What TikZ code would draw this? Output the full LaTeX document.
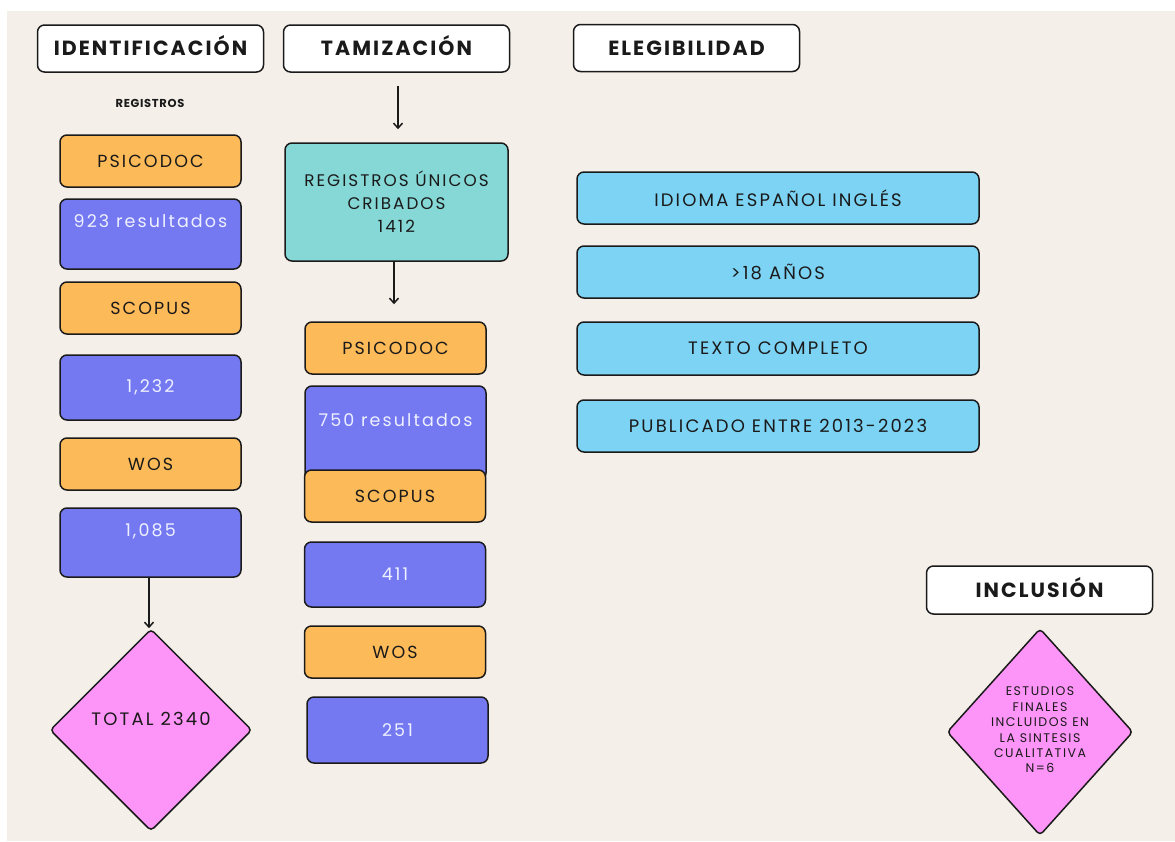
\documentclass[tikz,border=0pt]{standalone}
\usepackage{fontspec}
\setmainfont{Poppins}[LetterSpace=12]
\usetikzlibrary{shapes.geometric,arrows.meta}
\definecolor{beige}{HTML}{F4EFE9}
\definecolor{orng}{HTML}{FDBA58}
\definecolor{blu}{HTML}{7479F1}
\definecolor{tealc}{HTML}{86D8D6}
\definecolor{cyanc}{HTML}{7DD3F4}
\definecolor{pinkc}{HTML}{FD94F7}
\definecolor{txtw}{HTML}{EEF0FF}
\definecolor{ink}{HTML}{1A1A1A}
\tikzset{
  box/.style={draw=ink, line width=1.5pt, rounded corners=7pt, inner sep=0pt,
    font=\fontsize{17.5}{21}\selectfont, text=ink},
  hdr/.style={box, fill=white, minimum width=226pt, minimum height=47pt,
    text height=14.3pt, text depth=0pt,
    font=\fontsize{20.5}{24}\selectfont\bfseries\addfontfeatures{LetterSpace=10}},
  obox/.style={box, fill=orng, minimum width=181pt, minimum height=52pt},
  bbox/.style={box, fill=blu, text=txtw, minimum width=181pt},
  bboxtop/.style={bbox, text height=12pt, text depth=#1},
  cbox/.style={box, fill=cyanc, minimum width=402pt, minimum height=52pt,
    font=\fontsize{18}{21}\selectfont},
  pdia/.style={draw=ink, line width=1.5pt, fill=pinkc, diamond, rounded corners=4pt, inner sep=0pt},
  arr/.style={draw=ink, line width=1.5pt, -{Straight Barb[length=5pt,width=9pt]}},
}
\begin{document}
\begin{tikzpicture}[x=1pt,y=-1pt]
\useasboundingbox (0,0) rectangle (1175,841);
\fill[white] (0,0) rectangle (1175,841);
\fill[beige] (7,11) rectangle (1175,841);

% headers
\node[hdr] (ident) at (150.5,48.5) {IDENTIFICACIÓN};
\node[hdr] (tam) at (396.5,48.5) {TAMIZACIÓN};
\node[hdr] (elig) at (686.5,48) {ELEGIBILIDAD};
\node[hdr, minimum height=48pt] (incl) at (1039.5,590) {INCLUSIÓN};

\node[font=\fontsize{11.5}{13}\selectfont\bfseries\addfontfeatures{LetterSpace=6}, text=ink] (reglbl) at (150,103) {REGISTROS};

% left column
\node[obox] (p1) at (150.5,161) {PSICODOC};
\node[bboxtop=26pt, minimum height=70pt] (r1) at (150.5,234) {923 resultados};
\node[obox] (s1) at (150.5,308) {SCOPUS};
\node[bbox, minimum height=65pt] (r2) at (150.5,387.5) {1,232};
\node[obox] (w1) at (150.5,464) {WOS};
\node[bboxtop=25pt, minimum height=69pt] (r3) at (150.5,542.5) {1,085};
\node[pdia, minimum width=202pt, minimum height=202pt, text height=12pt, text depth=22pt,
  font=\fontsize{18}{21}\selectfont, text=ink] (tot) at (151,730) {TOTAL 2340};
\draw[arr] (r3.south -| 149,0) -- (tot.north -| 149,0);

% middle column
\node[box, fill=tealc, minimum width=223pt, minimum height=118pt, align=center,
  font=\fontsize{16.8}{23}\selectfont] (reg) at (396.5,202) {REGISTROS ÚNICOS\\CRIBADOS\\1412};
\draw[arr] ([yshift=-13pt]tam.south -| 398,0) -- ([yshift=13pt]reg.north -| 398,0);
\node[obox] (p2) at (395.5,348) {PSICODOC};
\node[bboxtop=26pt, minimum height=94pt] (r4) at (395.5,433) {750 resultados};
\node[obox] (s2) at (395,496) {SCOPUS};
\node[bbox, minimum height=65pt] (r5) at (395,574.5) {411};
\node[obox] (w2) at (395,652) {WOS};
\node[bbox, minimum height=66pt] (r6) at (397.5,730) {251};
\draw[arr] (reg.south -| 394,0) -- ([yshift=17pt]p2.north -| 394,0);

% right column
\node[cbox] (c1) at (778,198) {IDIOMA ESPAÑOL INGLÉS};
\node[cbox] (c2) at (778,272) {>18 AÑOS};
\node[cbox, minimum height=53pt] (c3) at (778,348.5) {TEXTO COMPLETO};
\node[cbox] (c4) at (778,426) {PUBLICADO ENTRE 2013-2023};

\node[pdia, minimum width=186pt, minimum height=207pt] (fin) at (1040,732) {};
\node[align=center, font=\fontsize{12.5}{15.4}\selectfont, text=ink] (fintxt) at (1040,730)
  {ESTUDIOS\\FINALES\\INCLUIDOS EN\\LA SINTESIS\\CUALITATIVA\\N=6};
\end{tikzpicture}
\end{document}
